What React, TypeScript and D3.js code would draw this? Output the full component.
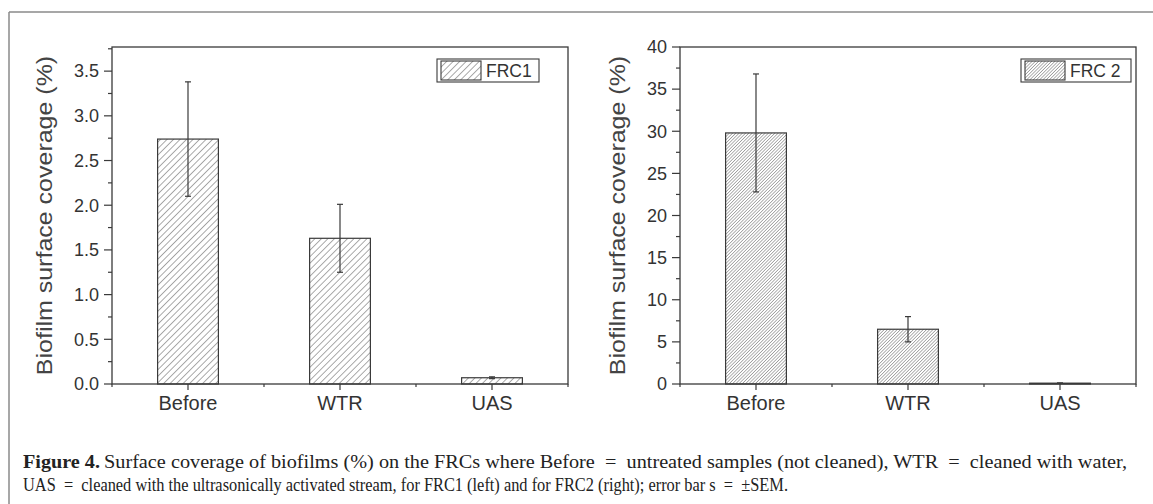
import React from 'react'
import * as d3 from 'd3'

// --- data ---
const categories = ['Before', 'WTR', 'UAS']

const frc1Values = [2.74, 1.63, 0.07]
const frc1Errors = [0.64, 0.38, 0.01]
const frc1Ticks = [0, 0.5, 1.0, 1.5, 2.0, 2.5, 3.0, 3.5]
const frc1MinorTicks = [0.25, 0.75, 1.25, 1.75, 2.25, 2.75, 3.25, 3.75]

const frc2Values = [29.8, 6.5, 0.1]
const frc2Errors = [7.0, 1.5, 0.03]
const frc2Ticks = [0, 5, 10, 15, 20, 25, 30, 35, 40]
const frc2MinorTicks = [2.5, 7.5, 12.5, 17.5, 22.5, 27.5, 32.5, 37.5]

const yLabel = 'Biofilm surface coverage (%)'
const captionBold = 'Figure 4.'
const captionLine1 = 'Surface coverage of biofilms (%) on the FRCs where Before  =  untreated samples (not cleaned), WTR  =  cleaned with water,'
const captionLine2 = 'UAS  =  cleaned with the ultrasonically activated stream, for FRC1 (left) and for FRC2 (right); error bar s  =  \u00b1SEM.'

const W = 1153
const H = 504
const AXIS = '#3a3a3a'
const SANS = 'Arial, "Liberation Sans", Helvetica, sans-serif'
const SERIF = '"Liberation Serif", "Times New Roman", serif'

interface PanelProps {
  left: number
  values: number[]
  errors: number[]
  ticks: number[]
  minorTicks: number[]
  yMax: number
  fmt: (v: number) => string
  legend: string
  legendBox: [number, number]
  hatchId: string
  labelX: number
}

function Panel(p: PanelProps) {
  const top = 47
  const bottom = 384
  const width = 456
  const x = d3.scaleBand<string>().domain(categories).range([p.left, p.left + width])
    .paddingInner(0.6).paddingOuter(0.3)
  const y = d3.scaleLinear().domain([0, p.yMax]).range([bottom, top])
  const step = x.step()
  const centers = categories.map(c => (x(c) as number) + x.bandwidth() / 2)
  const minorX = [centers[0] - step / 2, ...centers.map(c => c + step / 2)]
  const [lx, ly] = p.legendBox

  return (
    <g>
      {/* bars */}
      {categories.map((c, i) => (
        <rect key={c} x={x(c)} y={y(p.values[i])} width={x.bandwidth()}
          height={bottom - y(p.values[i])} fill={`url(#${p.hatchId})`}
          stroke={AXIS} strokeWidth={1.2} />
      ))}
      {/* error bars */}
      {categories.map((c, i) => {
        const cx = centers[i]
        const hi = y(p.values[i] + p.errors[i])
        const lo = y(p.values[i] - p.errors[i])
        return (
          <g key={c} stroke={AXIS} strokeWidth={1.2}>
            <line x1={cx} x2={cx} y1={hi} y2={lo} />
            <line x1={cx - 3} x2={cx + 3} y1={hi} y2={hi} />
            <line x1={cx - 3} x2={cx + 3} y1={lo} y2={lo} />
          </g>
        )
      })}
      {/* frame */}
      <rect x={p.left} y={top} width={width} height={bottom - top} fill="none" stroke={AXIS} strokeWidth={1.3} />
      {/* y ticks */}
      {p.ticks.map(t => (
        <g key={'t' + t}>
          <line x1={p.left - 8} x2={p.left} y1={y(t)} y2={y(t)} stroke={AXIS} strokeWidth={1.2} />
          <text x={p.left - 13} y={y(t)} dy="0.35em" textAnchor="end" fontSize={18}
            fontFamily={SANS} fill="#333">{p.fmt(t)}</text>
        </g>
      ))}
      {p.minorTicks.filter(t => t <= p.yMax).map(t => (
        <line key={'m' + t} x1={p.left - 4} x2={p.left} y1={y(t)} y2={y(t)} stroke={AXIS} strokeWidth={1.2} />
      ))}
      {/* x ticks */}
      {centers.map((cx, i) => (
        <g key={categories[i]}>
          <line x1={cx} x2={cx} y1={bottom} y2={bottom + 6} stroke={AXIS} strokeWidth={1.2} />
          <text x={cx} y={410} textAnchor="middle" fontSize={20} fontFamily={SANS} fill="#333">{categories[i]}</text>
        </g>
      ))}
      {minorX.map(mx => (
        <line key={'mx' + mx} x1={mx} x2={mx} y1={bottom} y2={bottom + 3} stroke={AXIS} strokeWidth={1.2} />
      ))}
      {/* y label */}
      <text transform={`translate(${p.labelX},${(top + bottom) / 2}) scale(0.85,1) rotate(-90)`}
        textAnchor="middle" dy="0.35em" fontSize={25} fontFamily={SANS} fill="#444">{yLabel}</text>
      {/* legend */}
      <rect x={lx} y={ly} width={p.legend.length > 4 ? 110 : 102} height={23} fill="#fff" stroke={AXIS} strokeWidth={1.1} />
      <rect x={lx + 4} y={ly + 2} width={40} height={19} fill={`url(#${p.hatchId})`} stroke={AXIS} strokeWidth={1.1} />
      <text x={lx + 49} y={ly + 11.5} dy="0.35em" fontSize={17.5} fontFamily={SANS} fill="#333">{p.legend}</text>
    </g>
  )
}

export default function App() {
  return (
    <svg width={W} height={H} style={{ position: 'absolute', left: 0, top: 0, background: '#fff' }}>
      <defs>
        <pattern id="hatch1" patternUnits="userSpaceOnUse" width={4.6} height={4.6} patternTransform="rotate(45)">
          <rect width={4.6} height={4.6} fill="#fff" />
          <line x1={0} y1={0} x2={0} y2={4.6} stroke="#555" strokeWidth={1} />
        </pattern>
        <pattern id="hatch2" patternUnits="userSpaceOnUse" width={2.3} height={2.3} patternTransform="rotate(45)">
          <rect width={2.3} height={2.3} fill="#fff" />
          <line x1={0} y1={0} x2={0} y2={2.3} stroke="#555" strokeWidth={0.9} />
        </pattern>
      </defs>
      {/* outer figure frame */}
      <line x1={9} x2={W} y1={12} y2={12} stroke="#8a8a8a" strokeWidth={1.5} />
      <line x1={9} x2={9} y1={12} y2={H} stroke="#8a8a8a" strokeWidth={1.5} />

      <Panel left={112} values={frc1Values} errors={frc1Errors} ticks={frc1Ticks} minorTicks={frc1MinorTicks}
        yMax={3.77} fmt={d3.format('.1f')} legend="FRC1" legendBox={[437, 59]} hatchId="hatch1" labelX={45} />
      <Panel left={680} values={frc2Values} errors={frc2Errors} ticks={frc2Ticks} minorTicks={frc2MinorTicks}
        yMax={40} fmt={d3.format('d')} legend="FRC 2" legendBox={[1021, 59]} hatchId="hatch2" labelX={618} />

      {/* caption */}
      <text x={23} y={468} fontSize={19} fontFamily={SERIF} fontWeight="bold" fill="#222"
        textLength={77} lengthAdjust="spacingAndGlyphs">{captionBold}</text>
      <text x={104} y={468} fontSize={19} fontFamily={SERIF} fill="#222" xmlSpace="preserve"
        textLength={1023} lengthAdjust="spacingAndGlyphs">{captionLine1}</text>
      <text x={23} y={491} fontSize={19} fontFamily={SERIF} fill="#222" xmlSpace="preserve"
        textLength={765} lengthAdjust="spacingAndGlyphs">{captionLine2}</text>
    </svg>
  )
}
